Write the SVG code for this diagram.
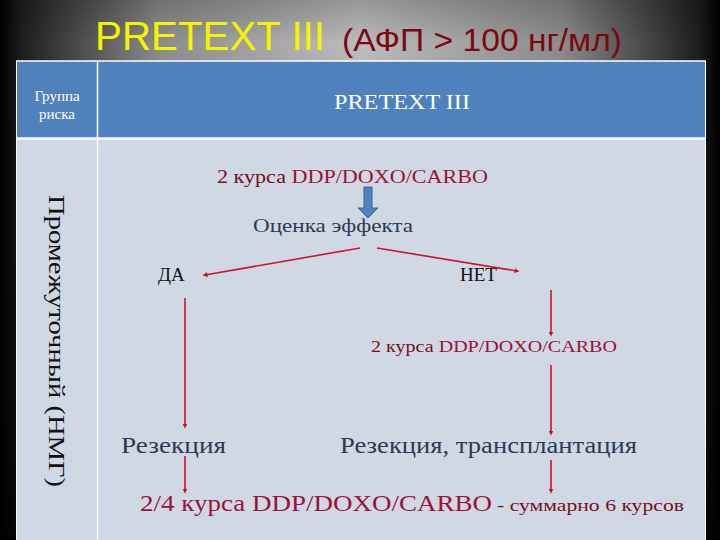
<svg xmlns="http://www.w3.org/2000/svg" width="720" height="540" viewBox="0 0 720 540">
<defs>
<linearGradient id="bgH" x1="0" y1="0" x2="1" y2="0">
<stop offset="0" stop-color="#000"/>
<stop offset="0.03" stop-color="#1e1e1e"/>
<stop offset="0.22" stop-color="#8c8c8c"/>
<stop offset="0.5" stop-color="#bdbdbd"/>
<stop offset="0.78" stop-color="#8c8c8c"/>
<stop offset="0.97" stop-color="#1e1e1e"/>
<stop offset="1" stop-color="#000"/>
</linearGradient>
<linearGradient id="bgV" x1="0" y1="0" x2="0" y2="1">
<stop offset="0" stop-color="#000" stop-opacity="0.2"/>
<stop offset="0.08" stop-color="#000" stop-opacity="0"/>
<stop offset="0.8" stop-color="#000" stop-opacity="0.4"/>
<stop offset="1" stop-color="#000" stop-opacity="0.8"/>
</linearGradient>
<marker id="dot" viewBox="0 0 6 6" refX="3" refY="3" markerWidth="5" markerHeight="5" markerUnits="userSpaceOnUse" orient="auto">
<path d="M0,0 L6,3 L0,6 z" fill="#c0102c"/>
</marker>
</defs>
<style>
text{font-family:"Liberation Serif","DejaVu Serif",serif}
.crim{fill:#9c1238}
.dk{fill:#7a0e1e}
.slate{fill:#2e3a52}
.con{stroke:#d01030;stroke-width:1.6;fill:none;marker-end:url(#dot)}
</style>
<rect width="720" height="540" fill="url(#bgH)"/>
<rect width="720" height="540" fill="url(#bgV)"/>
<g id="title">
<text x="95" y="50" style="font-family:'Liberation Sans',Arial,sans-serif" font-size="41" fill="#f4f400" textLength="230" lengthAdjust="spacingAndGlyphs">PRETEXT III</text>
<text x="342" y="51" style="font-family:'Liberation Sans',Arial,sans-serif" font-size="31" fill="#7a0a10" textLength="280" lengthAdjust="spacingAndGlyphs">(АФП &gt; 100 нг/мл)</text>
</g>
<g id="table">
<rect x="16" y="61" width="690" height="479" fill="#d0d8e4"/>
<rect x="16" y="61" width="690" height="77" fill="#4f81bd"/>
<line x1="16" y1="61" x2="706" y2="61" stroke="#fff" stroke-width="1.5"/>
<line x1="16" y1="138.5" x2="706" y2="138.5" stroke="#fff" stroke-width="2.5"/>
<line x1="97.5" y1="61" x2="97.5" y2="540" stroke="#fff" stroke-width="1.5"/>
<line x1="705.5" y1="61" x2="705.5" y2="540" stroke="#fff" stroke-width="1"/>
<line x1="16.5" y1="61" x2="16.5" y2="540" stroke="#fff" stroke-width="1"/>
<text x="57" y="101" font-size="15" fill="#fff" text-anchor="middle">Группа</text>
<text x="57" y="119" font-size="15" fill="#fff" text-anchor="middle">риска</text>
<text x="402" y="109" font-size="22" fill="#fff" text-anchor="middle" textLength="136" lengthAdjust="spacingAndGlyphs">PRETEXT III</text>
<text transform="translate(49,341) rotate(90)" font-size="23" fill="#111" text-anchor="middle" textLength="292" lengthAdjust="spacingAndGlyphs">Промежуточный  (НМГ)</text>
</g>
<g id="connectors">
<path d="M364,187 h8 v21 h6 l-10,10 l-10,-10 h6 z" fill="#4f81bd" stroke="#3a6598" stroke-width="1"/>
<line class="con" x1="360" y1="248" x2="205" y2="275"/>
<line class="con" x1="377" y1="248" x2="517" y2="271"/>
<line class="con" x1="185" y1="298" x2="185" y2="426"/>
<line class="con" x1="551" y1="290" x2="551" y2="334"/>
<line class="con" x1="551" y1="365" x2="551" y2="433"/>
<line class="con" x1="185" y1="456" x2="185" y2="491"/>
<line class="con" x1="551" y1="460" x2="551" y2="491"/>
</g>
<g id="n1"><text x="217" y="183" font-size="18" textLength="271" lengthAdjust="spacingAndGlyphs"><tspan class="dk">2 курса </tspan><tspan class="crim">DDP/DOXO/CARBO</tspan></text></g>
<g id="n2"><text class="slate" x="253" y="232" font-size="19" textLength="160" lengthAdjust="spacingAndGlyphs">Оценка эффекта</text></g>
<g id="n3"><text x="158" y="281" font-size="19" fill="#111">ДА</text></g>
<g id="n4"><text x="460" y="281" font-size="19" fill="#111">НЕТ</text></g>
<g id="n5"><text x="371" y="352" font-size="17" textLength="246" lengthAdjust="spacingAndGlyphs"><tspan class="dk">2 курса </tspan><tspan class="crim">DDP/DOXO/CARBO</tspan></text></g>
<g id="n6"><text class="slate" x="121" y="453" font-size="23" textLength="105" lengthAdjust="spacingAndGlyphs">Резекция</text></g>
<g id="n7"><text class="slate" x="340" y="453" font-size="23" textLength="297" lengthAdjust="spacingAndGlyphs">Резекция, трансплантация</text></g>
<g id="n8">
<text class="crim" x="140" y="511" font-size="23" textLength="352" lengthAdjust="spacingAndGlyphs">2/4 курса DDP/DOXO/CARBO</text>
<text class="dk" x="497" y="511" font-size="17" textLength="187" lengthAdjust="spacingAndGlyphs">- суммарно 6 курсов</text>
</g>
</svg>
